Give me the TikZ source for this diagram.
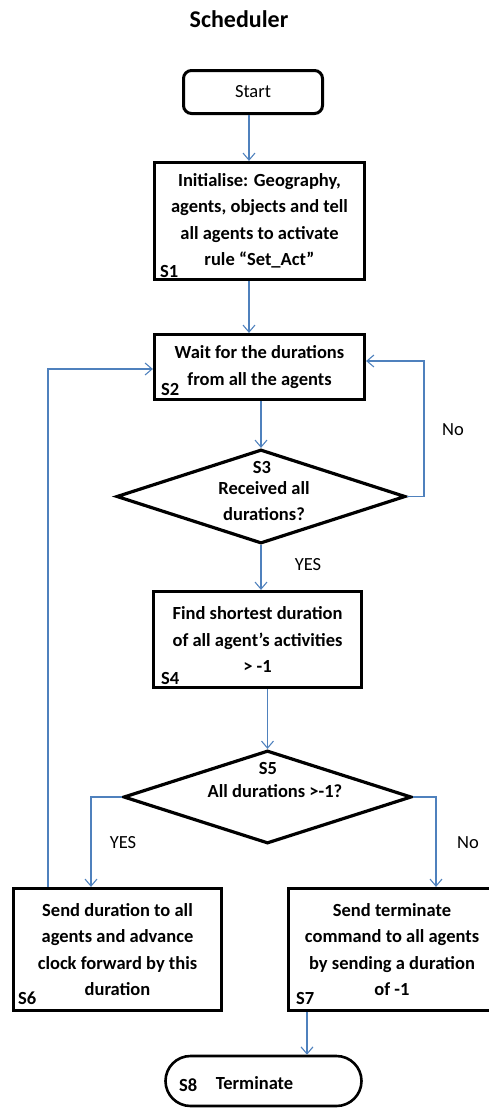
\documentclass[tikz,border=0pt]{standalone}
\usepackage{fontspec}
\setmainfont{Carlito}
\usetikzlibrary{arrows.meta,shapes.geometric,calc}
\definecolor{connblue}{RGB}{79,129,189}
\begin{document}
\begin{tikzpicture}[x=1pt,y=-1pt,
  proc/.style={draw, line width=3.2pt, align=center, inner sep=0pt,
    font=\bfseries\fontsize{18.5}{26.5}\selectfont},
  dec/.style={draw, diamond, line width=3.2pt, inner sep=0pt},
  txt/.style={inner sep=0pt, font=\bfseries\fontsize{18.5}{22}\selectfont},
  lbl/.style={inner sep=0pt, font=\fontsize{18.5}{22}\selectfont},
  slabel/.style={inner sep=0pt, anchor=west, font=\bfseries\fontsize{18.5}{22}\selectfont},
  conn/.style={draw=connblue, line width=1.1pt, -{Straight Barb[length=7pt,width=12pt]}}
]
\useasboundingbox (0,0) rectangle (489,1109);

\node[inner sep=0pt, font=\bfseries\fontsize{24}{28}\selectfont] (title) at (239,19) {Scheduler};

\node[draw, line width=3pt, rounded corners=8pt, minimum width=139pt, minimum height=43pt,
  font=\fontsize{18.5}{22}\selectfont] (start) at (253,92) {Start};

\node[proc, minimum width=210pt, minimum height=117pt] (s1) at (259.5,221)
  {Initialise: Geography,\\agents, objects and tell\\all agents to activate\\rule “Set\_Act”};
\node[slabel] (s1l) at (160,271) {S1};

\node[proc, minimum width=210pt, minimum height=65pt] (s2) at (259.5,367)
  {Wait for the durations\\from all the agents};
\node[slabel] (s2l) at (161,389) {S2};

\node[dec, minimum width=289pt, minimum height=94pt] (s3) at (261,496.5) {};
\node[txt] (s3l) at (262,467) {S3};
\node[txt] (s3a) at (264,488) {Received all};
\node[txt] (s3b) at (264,514) {durations?};

\node[proc, minimum width=208pt, minimum height=96pt] (s4) at (257.5,639.5)
  {Find shortest duration\\of all agent’s activities\\> -1};
\node[slabel] (s4l) at (161,678) {S4};

\node[dec, minimum width=288pt, minimum height=93pt] (s5) at (267.5,797) {};
\node[txt] (s5l) at (268,768) {S5};
\node[txt] (s5a) at (275,791) {All durations >-1?};

\node[proc, minimum width=208pt, minimum height=122pt] (s6) at (117.5,949.5)
  {Send duration to all\\agents and advance\\clock forward by this\\duration};
\node[slabel] (s6l) at (18,998) {S6};

\node[proc, minimum width=207pt, minimum height=122pt] (s7) at (392,949.5)
  {Send terminate\\command to all agents\\by sending a duration\\of -1};
\node[slabel] (s7l) at (296,998) {S7};

\node[draw, line width=2.6pt, rounded corners=25pt, minimum width=196pt, minimum height=50pt] (s8) at (263.5,1081) {};
\node[slabel] (s8l) at (179,1085) {S8};
\node[txt] (s8t) at (254.5,1083) {Terminate};

% labels
\node[lbl] (no1) at (453,430) {No};
\node[lbl] (yes1) at (308,565) {YES};
\node[lbl] (yes2) at (123,843) {YES};
\node[lbl] (no2) at (468,843) {No};

% connectors
\draw[conn] ([xshift=-4pt]start.south) -- ([xshift=-4pt]start.south |- s1.north);
\draw[conn] ([xshift=-10.5pt]s1.south) -- ([xshift=-10.5pt]s1.south |- s2.north);
\draw[conn] (s3.north |- s2.south) -- (s3.north);
\coordinate (r1) at (424,361);
\draw[conn] (s3.east) -| (r1) -- (r1 -| s2.east);
\draw[conn] (s3.south) -- (s3.south |- s4.north);
\draw[conn] (s5.north |- s4.south) -- (s5.north);
\draw[conn] (s5.west) -| ([xshift=-26.5pt]s6.north);
\draw[conn] (s5.east) -| ([xshift=44pt]s7.north);
\coordinate (l1) at (48,369);
\draw[conn] (l1 |- s6.north) -- (l1) -- (l1 -| s2.west);
\draw[conn] ([xshift=-85pt]s7.south) -- ([xshift=-85pt]s7.south |- s8.north);
\end{tikzpicture}
\end{document}
